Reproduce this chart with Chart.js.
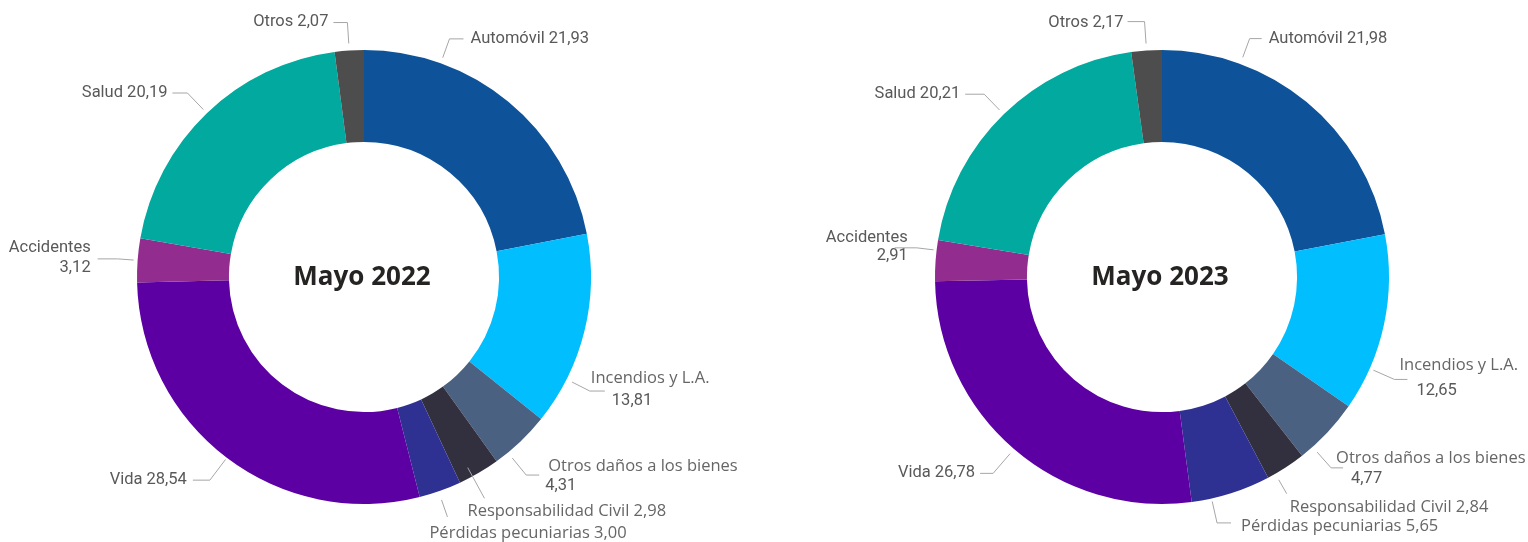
<!DOCTYPE html>
<html>
<head>
<meta charset="utf-8">
<script src="https://cdn.jsdelivr.net/npm/chart.js@4"></script>
<style>
  body { margin: 0; background: #fff; }
  .wrap { position: relative; width: 1528px; height: 542px; }
  canvas { position: absolute; top: 0; }
  #c2022 { left: 0; }
  #c2023 { left: 764px; }
</style>
</head>
<body>
<div class="wrap">
  <canvas id="c2022" width="764" height="542"></canvas>
  <canvas id="c2023" width="764" height="542"></canvas>
</div>
<script>
// data
const categories = ['Automóvil', 'Incendios y L.A.', 'Otros daños a los bienes', 'Responsabilidad Civil',
    'Pérdidas pecuniarias', 'Vida', 'Accidentes', 'Salud', 'Otros'];
const values2022 = [21.93, 13.81, 4.31, 2.98, 3.00, 28.54, 3.12, 20.19, 2.07];
const values2023 = [21.98, 12.65, 4.77, 2.84, 5.65, 26.78, 2.91, 20.21, 2.17];
const sliceColors = ['#0E5299', '#01BEFE', '#4B6181', '#32303F', '#2E3192', '#5C00A3', '#922C8E', '#01A99E', '#4D4D4D'];

// fonts: narrow = Roboto (DIN-like look), wide = Open Sans
const NARROW = { font: '16.5px Roboto, sans-serif', sx: 1, color: '#595959' };
const WIDE = { font: '16.5px "Open Sans", sans-serif', sx: 1, color: '#666666' };
const fmt = v => v.toFixed(2).replace('.', ',');

// label placement (leader: f = spot inside slice, r0/r1 = radial start/end past outer edge, h = horizontal run)
// t: 1 = "name value" on one line, 2 = name / value on two lines
const layout2022 = [
    { f: .25, r0: 6, r1: 26, h: 14, t: 1, lines: [[7, 0, NARROW]] },
    { f: .76, r0: 6, r1: 26, h: 15, t: 2, lines: [[-14, -13, WIDE], [7, 10, NARROW]] },
    { f: .77, r0: 7, r1: 29, h: 13, t: 2, lines: [[9, -9, WIDE], [6, 11, NARROW]] },
    { f: .67, r0: -10, r1: 25, h: 0, t: 1, lines: [[-17, 13, WIDE]] },
    { f: .54, r0: 9, r1: 27, h: 0, t: 1, lines: [[-18, 16, WIDE]] },
    { f: .5, r0: 2, r1: 28, h: 17, t: 1, lines: [[-6, 0, NARROW]] },
    { f: .5, r0: 4, r1: 20, h: 20, t: 2, lines: [[-7, -11, NARROW], [-7, 9, NARROW]] },
    { f: .5, r0: 5, r1: 28, h: 15, t: 1, lines: [[-5, 0, NARROW]] },
    { f: .5, r0: 7, r1: 28, h: 14, t: 1, lines: [[-5, -1, NARROW]] }
];
const layout2023 = [
    { f: .255, r0: 7, r1: 27, h: 12, t: 1, lines: [[7, 0, NARROW]] },
    { f: .76, r0: 4, r1: 27, h: 13, t: 2, lines: [[-8, -14, WIDE], [9, 11, NARROW]] },
    { f: .8, r0: 7, r1: 28, h: 12, t: 2, lines: [[-7, -10, WIDE], [8, 11, NARROW]] },
    { f: .8, r0: 7, r1: 23, h: 0, t: 1, lines: [[3, 14, WIDE]] },
    { f: .75, r0: 3, r1: 25, h: 14, t: 1, lines: [[10, 3, WIDE]] },
    { f: .5, r0: 6, r1: 32, h: 13, t: 1, lines: [[-5, 0, NARROW]] },
    { f: .75, r0: 3, r1: 20, h: 22, t: 2, lines: [[13, -10, NARROW], [13, 8, NARROW]] },
    { f: .5, r0: 6, r1: 28, h: 19, t: 1, lines: [[-5, 0, NARROW]] },
    { f: .5, r0: 7, r1: 29, h: 17, t: 1, lines: [[-4, 1, NARROW]] }
];

const labelPlugin = {
    id: 'sliceLabels',
    afterDraw(chart, args, opts) {
        const ctx = chart.ctx;
        const meta = chart.getDatasetMeta(0);
        const values = chart.data.datasets[0].data;
        ctx.save();
        meta.data.forEach((arc, i) => {
            const p = arc.getProps(['x', 'y', 'startAngle', 'endAngle', 'outerRadius'], true);
            const L = opts.layout[i];
            const a = p.startAngle + (p.endAngle - p.startAngle) * L.f;
            const side = Math.cos(a) >= 0 ? 1 : -1;
            const x0 = p.x + Math.cos(a) * (p.outerRadius + L.r0);
            const y0 = p.y + Math.sin(a) * (p.outerRadius + L.r0);
            const x1 = p.x + Math.cos(a) * (p.outerRadius + L.r1);
            const y1 = p.y + Math.sin(a) * (p.outerRadius + L.r1);
            const x2 = x1 + side * L.h;
            ctx.strokeStyle = '#A6A6A6';
            ctx.lineWidth = 1;
            ctx.beginPath();
            ctx.moveTo(x0, y0);
            ctx.lineTo(x1, y1);
            ctx.lineTo(x2, y1);
            ctx.stroke();

            const name = chart.data.labels[i];
            const texts = L.t === 2 ? [name, fmt(values[i])] : [name + ' ' + fmt(values[i])];
            ctx.textBaseline = 'middle';
            ctx.textAlign = side > 0 ? 'left' : 'right';
            texts.forEach((txt, j) => {
                const [dx, dy, f] = L.lines[j];
                ctx.save();
                ctx.font = f.font;
                ctx.fillStyle = f.color;
                ctx.translate(x2 + dx, y1 + dy);
                ctx.scale(f.sx, 1);
                ctx.fillText(txt, 0, 0);
                ctx.restore();
            });
        });
        // centre title
        const c = meta.data[0];
        ctx.font = 'bold 26px "Open Sans", sans-serif';
        ctx.fillStyle = '#252423';
        ctx.textAlign = 'center';
        ctx.fillText(opts.title, c.x - 2, c.y + 1);
        ctx.restore();
    }
};

function makeChart(id, values, layout, title, padding) {
    return new Chart(document.getElementById(id), {
        type: 'doughnut',
        data: {
            labels: categories,
            datasets: [{
                data: values,
                backgroundColor: sliceColors,
                borderWidth: 0,
                hoverOffset: 0
            }]
        },
        options: {
            responsive: false,
            animation: false,
            cutout: '59.5%',
            layout: { padding: padding },
            plugins: {
                legend: { display: false },
                tooltip: { enabled: false },
                sliceLabels: { layout: layout, title: title }
            }
        },
        plugins: [labelPlugin]
    });
}

makeChart('c2022', values2022, layout2022, 'Mayo 2022', { top: 50, bottom: 38, left: 0, right: 36 });
makeChart('c2023', values2023, layout2023, 'Mayo 2023', { top: 50, bottom: 38, left: 32, right: 0 });
</script>
</body>
</html>
